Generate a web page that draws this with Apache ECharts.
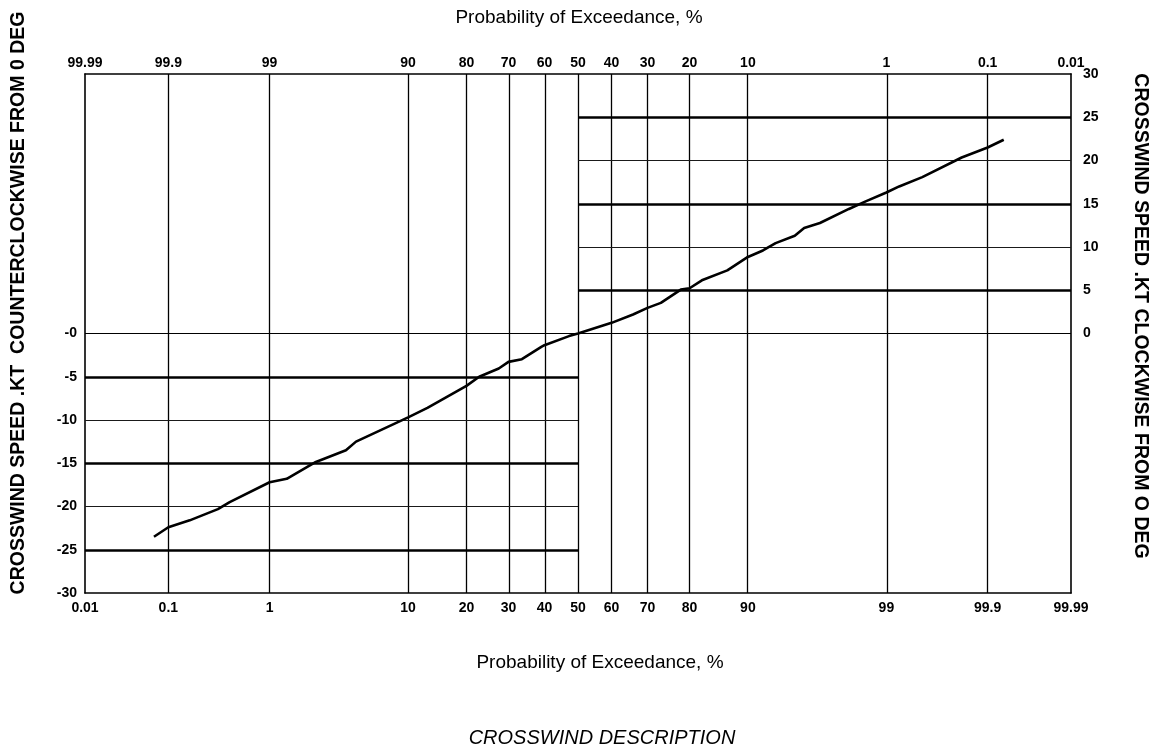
<!DOCTYPE html>
<html>
<head>
<meta charset="utf-8">
<script src="https://cdn.jsdelivr.net/npm/echarts@6/dist/echarts.min.js"></script>
<style>
html,body{margin:0;padding:0;background:#ffffff;}
#chart{width:1157px;height:753px;}
</style>
</head>
<body>
<div id="chart"></div>
<script>
// ---------------- DATA ----------------
// probability ticks (bottom axis, % exceedance), and their labels
const tickProbs = [0.01, 0.1, 1, 10, 20, 30, 40, 50, 60, 70, 80, 90, 99, 99.9, 99.99];
const bottomTickLabels = ['0.01','0.1','1','10','20','30','40','50','60','70','80','90','99','99.9','99.99'];
const topTickLabels = ['99.99','99.9','99','90','80','70','60','50','40','30','20','10','1','0.1','0.01'];

// crosswind speed range (kt)
const speedMin = -30;
const speedMax = 30;
const speedStep = 5;

// guide lines: counter-clockwise half (left/lower) and clockwise half (right/upper)
const ccwThickLines = [-5, -15, -25];
const ccwThinLines = [-10, -20];
const cwThickLines = [5, 15, 25];
const cwThinLines = [10, 20];

// curve: probability (%) on bottom scale vs crosswind speed (kt)
const curveProb = [0.069, 0.1, 0.17, 0.33, 0.43, 1, 1.4, 2.4, 4.0, 4.7, 10, 12.8, 20, 22.8, 27.5, 30, 33.6, 39.1, 40, 47.3, 50,
                   60, 66.1, 70, 73.4, 78.1, 80, 82.5, 87.0, 90, 91.85, 93.2, 94.9, 95.6, 96.6, 97.95, 98.5, 99, 99.23, 99.53, 99.81, 99.9, 99.934];
const curveSpeed = [-23.5, -22.4, -21.6, -20.3, -19.5, -17.2, -16.8, -14.85, -13.5, -12.5, -9.7, -8.6, -6.06, -5.0, -4.05, -3.28, -2.97, -1.55, -1.35, -0.3, 0,
                    1.23, 2.2, 2.96, 3.54, 5.08, 5.23, 6.15, 7.3, 8.85, 9.6, 10.45, 11.3, 12.2, 12.77, 14.4, 15.27, 16.3, 17.0, 18.08, 20.35, 21.5, 22.4];

// ---------------- normal-probability scale ----------------
function probit(p) {
  // Acklam inverse normal CDF
  const a = [-3.969683028665376e+01, 2.209460984245205e+02, -2.759285104469687e+02, 1.383577518672690e+02, -3.066479806614716e+01, 2.506628277459239e+00];
  const b = [-5.447609879822406e+01, 1.615858368580409e+02, -1.556989798598866e+02, 6.680131188771972e+01, -1.328068155288572e+01];
  const c = [-7.784894002430293e-03, -3.223964580411365e-01, -2.400758277161838e+00, -2.549732539343734e+00, 4.374664141464968e+00, 2.938163982698783e+00];
  const d = [7.784695709041462e-03, 3.224671290700398e-01, 2.445134137142996e+00, 3.754408661907416e+00];
  const pl = 0.02425, ph = 1 - pl;
  let q, r;
  if (p < pl) {
    q = Math.sqrt(-2 * Math.log(p));
    return (((((c[0]*q+c[1])*q+c[2])*q+c[3])*q+c[4])*q+c[5]) / ((((d[0]*q+d[1])*q+d[2])*q+d[3])*q+1);
  } else if (p <= ph) {
    q = p - 0.5; r = q*q;
    return (((((a[0]*r+a[1])*r+a[2])*r+a[3])*r+a[4])*r+a[5])*q / (((((b[0]*r+b[1])*r+b[2])*r+b[3])*r+b[4])*r+1);
  } else {
    q = Math.sqrt(-2 * Math.log(1 - p));
    return -(((((c[0]*q+c[1])*q+c[2])*q+c[3])*q+c[4])*q+c[5]) / ((((d[0]*q+d[1])*q+d[2])*q+d[3])*q+1);
  }
}
const zOf = pct => probit(pct / 100);
const tickZ = tickProbs.map(zOf);
const xMin = tickZ[0];
const xMax = tickZ[tickZ.length - 1];
const xMid = zOf(50);

function labelFrom(arr) {
  return function (v) {
    let best = 0, bd = Infinity;
    tickZ.forEach((z, i) => { const dd = Math.abs(z - v); if (dd < bd) { bd = dd; best = i; } });
    return arr[best];
  };
}

// ---------------- styles ----------------
const FONT = "'Liberation Sans', Arial, sans-serif";
const thick = { color: '#000', width: 2.6, type: 'solid' };
const thin = { color: '#1a1a1a', width: 1, type: 'solid' };
const vert = { color: '#000', width: 1.3, type: 'solid' };

const markData = [];
tickZ.slice(1, -1).forEach(z => markData.push({ xAxis: z, lineStyle: vert }));
markData.push({ yAxis: 0, lineStyle: { color: '#000', width: 1.2, type: 'solid' } });
ccwThickLines.forEach(v => markData.push([{ coord: [xMin, v], lineStyle: thick }, { coord: [xMid, v] }]));
ccwThinLines.forEach(v => markData.push([{ coord: [xMin, v], lineStyle: thin }, { coord: [xMid, v] }]));
cwThickLines.forEach(v => markData.push([{ coord: [xMid, v], lineStyle: thick }, { coord: [xMax, v] }]));
cwThinLines.forEach(v => markData.push([{ coord: [xMid, v], lineStyle: thin }, { coord: [xMax, v] }]));

const axisLabelBase = { color: '#000', fontFamily: FONT, fontWeight: 'bold', fontSize: 14 };

const chart = echarts.init(document.getElementById('chart'), null, { renderer: 'canvas' });
chart.setOption({
  animation: false,
  backgroundColor: '#ffffff',
  grid: { left: 85, right: 86, top: 74, bottom: 160, containLabel: false },
  xAxis: [
    {
      type: 'value', position: 'bottom', min: xMin, max: xMax,
      axisLine: { show: true, onZero: false, lineStyle: { color: '#000', width: 1.6 } },
      axisTick: { show: false },
      splitLine: { show: false },
      axisLabel: Object.assign({}, axisLabelBase, { margin: 8, customValues: tickZ, formatter: labelFrom(bottomTickLabels) })
    },
    {
      type: 'value', position: 'top', min: xMin, max: xMax,
      axisLine: { show: true, onZero: false, lineStyle: { color: '#000', width: 1.6 } },
      axisTick: { show: false },
      splitLine: { show: false },
      axisLabel: Object.assign({}, axisLabelBase, { margin: 4, customValues: tickZ, formatter: labelFrom(topTickLabels) })
    }
  ],
  yAxis: [
    {
      type: 'value', position: 'left', min: speedMin, max: speedMax, interval: speedStep,
      axisLine: { show: true, onZero: false, lineStyle: { color: '#000', width: 1.6 } },
      axisTick: { show: false },
      splitLine: { show: false },
      axisLabel: Object.assign({}, axisLabelBase, { margin: 8,
        formatter: v => v > 0 ? '' : (v === 0 ? '-0' : String(v)) })
    },
    {
      type: 'value', position: 'right', min: speedMin, max: speedMax, interval: speedStep,
      axisLine: { show: true, onZero: false, lineStyle: { color: '#000', width: 1.6 } },
      axisTick: { show: false },
      splitLine: { show: false },
      axisLabel: Object.assign({}, axisLabelBase, { margin: 12,
        formatter: v => v < 0 ? '' : String(v) })
    }
  ],
  series: [
    {
      type: 'line',
      xAxisIndex: 0, yAxisIndex: 0,
      data: curveProb.map((p, i) => [zOf(p), curveSpeed[i]]),
      showSymbol: false,
      symbol: 'none',
      lineStyle: { color: '#000', width: 2.6 },
      z: 5,
      markLine: {
        silent: true, symbol: ['none', 'none'], label: { show: false },
        emphasis: { disabled: true },
        data: markData
      }
    }
  ],
  graphic: [
    { type: 'text', x: 579, y: 18, style: { text: 'Probability of Exceedance, %', font: "19px " + FONT, fill: '#000', align: 'center', verticalAlign: 'middle' } },
    { type: 'text', x: 600, y: 663, style: { text: 'Probability of Exceedance, %', font: "19px " + FONT, fill: '#000', align: 'center', verticalAlign: 'middle' } },
    { type: 'text', x: 602, y: 738, style: { text: 'CROSSWIND DESCRIPTION', font: "italic 20px " + FONT, fill: '#000', align: 'center', verticalAlign: 'middle' } },
    { type: 'text', x: 19, y: 303, rotation: Math.PI / 2, style: { text: 'CROSSWIND SPEED .KT  COUNTERCLOCKWISE FROM 0 DEG', font: "bold 19.5px " + FONT, fill: '#000', align: 'center', verticalAlign: 'middle' } },
    { type: 'text', x: 1140, y: 316, rotation: -Math.PI / 2, style: { text: 'CROSSWIND SPEED .KT CLOCKWISE FROM O DEG', font: "bold 19.5px " + FONT, fill: '#000', align: 'center', verticalAlign: 'middle' } }
  ]
});
</script>
</body>
</html>
